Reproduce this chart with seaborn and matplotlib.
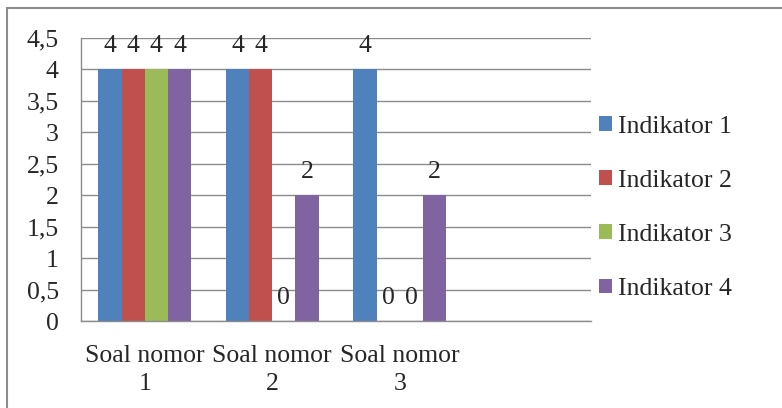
import pandas as pd
import matplotlib.pyplot as plt
import seaborn as sns
from matplotlib.patches import Rectangle
from matplotlib.ticker import FuncFormatter

soal = ["Soal nomor\n1", "Soal nomor\n2", "Soal nomor\n3"]
indikator = ["Indikator 1", "Indikator 2", "Indikator 3", "Indikator 4"]
indikator_1 = [4, 4, 4]
indikator_2 = [4, 4, 0]
indikator_3 = [4, 0, 0]
indikator_4 = [4, 2, 2]
colors = ["#4F81BD", "#C0504D", "#9BBB59", "#8064A2"]

sns.set_style("white")
plt.rcParams["font.family"] = ["Liberation Serif", "DejaVu Serif"]

rows = []
for name, vals in zip(indikator, [indikator_1, indikator_2, indikator_3, indikator_4]):
    for s, v in zip(soal, vals):
        rows.append({"Soal": s, "Indikator": name, "Nilai": v})
df = pd.DataFrame(rows)

fig = plt.figure(figsize=(7.82, 4.08), dpi=100)
ax = fig.add_axes([81 / 782, 1 - 321 / 408, 510 / 782, 283 / 408])

sns.barplot(data=df, x="Soal", y="Nilai", hue="Indikator", order=soal,
            hue_order=indikator, palette=colors, width=4 / 5.5,
            saturation=1, errorbar=None, linewidth=0, ax=ax)

fs = 18.5
for cont in ax.containers:
    ax.bar_label(cont, fmt="%g", padding=9, fontsize=fs)

ax.set_xlim(-0.5, 3.5)
ax.set_ylim(0, 4.5)
ax.set_yticks([i * 0.5 for i in range(10)])
ax.yaxis.set_major_formatter(FuncFormatter(lambda v, p: f"{v:g}".replace(".", ",")))
ax.yaxis.grid(True, color="#8c8c8c", linewidth=1.0)
ax.set_axisbelow(True)
ax.tick_params(axis="y", length=0, pad=16, labelsize=fs)
ax.tick_params(axis="x", length=0, pad=17, labelsize=fs)
plt.setp(ax.get_xticklabels(), linespacing=1.4)
ax.set_xlabel("")
ax.set_ylabel("")
for side in ["top", "right"]:
    ax.spines[side].set_visible(False)
for side in ["left", "bottom"]:
    ax.spines[side].set_color("#8c8c8c")
    ax.spines[side].set_linewidth(1.0)

ax.legend(loc="center left", bbox_to_anchor=(0.995, 0.40), frameon=False,
          fontsize=fs, handlelength=0.5, handleheight=0.5,
          handletextpad=0.25, labelspacing=1.25, borderaxespad=0)

fig.patches.append(Rectangle((7 / 782, -0.05), 1.1, 1 - 8 / 408 + 0.05,
                             transform=fig.transFigure, fill=False,
                             edgecolor="#8c8c8c", linewidth=1.5))

fig.savefig("out.png", dpi=100)
